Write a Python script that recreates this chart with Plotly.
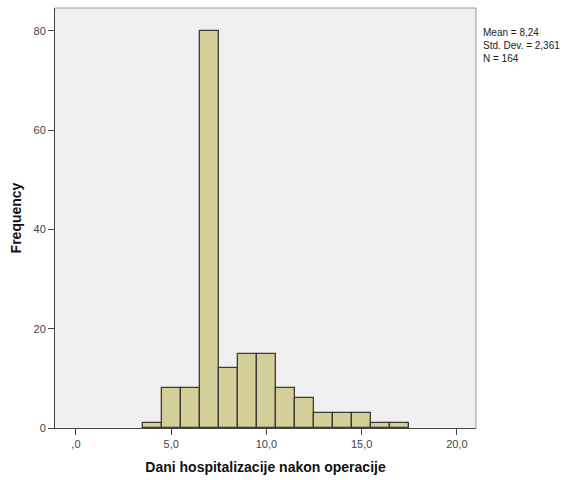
import plotly.graph_objects as go

bin_centers = [4, 5, 6, 7, 8, 9, 10, 11, 12, 13, 14, 15, 16, 17]
counts = [1, 8, 8, 80, 12, 15, 15, 8, 6, 3, 3, 3, 1, 1]
x_ticks = [0, 5, 10, 15, 20]
x_ticklabels = [",0", "5,0", "10,0", "15,0", "20,0"]
y_ticks = [0, 20, 40, 60, 80]
stats_text = "Mean = 8,24<br>Std. Dev. = 2,361<br>N = 164"

fig = go.Figure()
fig.add_trace(go.Bar(
    x=bin_centers, y=counts, width=1,
    marker=dict(color="#d4cf98", line=dict(color="#3a3a3a", width=1.3)),
    showlegend=False,
))

fig.update_layout(
    width=570, height=480,
    margin=dict(l=55, r=94, t=8, b=49),
    paper_bgcolor="white",
    plot_bgcolor="#f0f0f0",
    font=dict(family="Arial, Liberation Sans, sans-serif", size=11, color="#333333"),
    bargap=0,
    xaxis=dict(
        range=[-1.1, 21.0],
        tickmode="array", tickvals=x_ticks, ticktext=x_ticklabels,
        ticks="outside", ticklen=6, tickcolor="#444444", tickwidth=1,
        showgrid=False, zeroline=False,
        showline=True, linecolor="#444444", linewidth=1, mirror=False,
        title=dict(text="<b>Dani hospitalizacije nakon operacije</b>",
                   font=dict(size=14, color="#111111"), standoff=12),
        tickfont=dict(size=11, color="#444444"),
    ),
    yaxis=dict(
        range=[0, 84.6],
        tickmode="array", tickvals=y_ticks,
        ticks="outside", ticklen=6, tickcolor="#444444", tickwidth=1,
        showgrid=False, zeroline=False,
        showline=True, linecolor="#444444", linewidth=1,
        title=dict(text="<b>Frequency</b>", font=dict(size=14, color="#111111"), standoff=8),
        tickfont=dict(size=11, color="#444444"),
    ),
    shapes=[
        dict(type="line", xref="paper", yref="paper", x0=0, x1=1, y0=1, y1=1,
             line=dict(color="#9a9a9a", width=1)),
        dict(type="line", xref="paper", yref="paper", x0=1, x1=1, y0=0, y1=1,
             line=dict(color="#9a9a9a", width=1)),
    ],
    annotations=[
        dict(text=stats_text, xref="paper", yref="paper", x=1.0, y=0.96,
             xshift=5, xanchor="left", yanchor="top", align="left",
             showarrow=False, font=dict(size=10, color="#222222")),
    ],
)

fig.write_html("out.html", config={"displayModeBar": False},
               post_script="document.body.style.margin='0';")
